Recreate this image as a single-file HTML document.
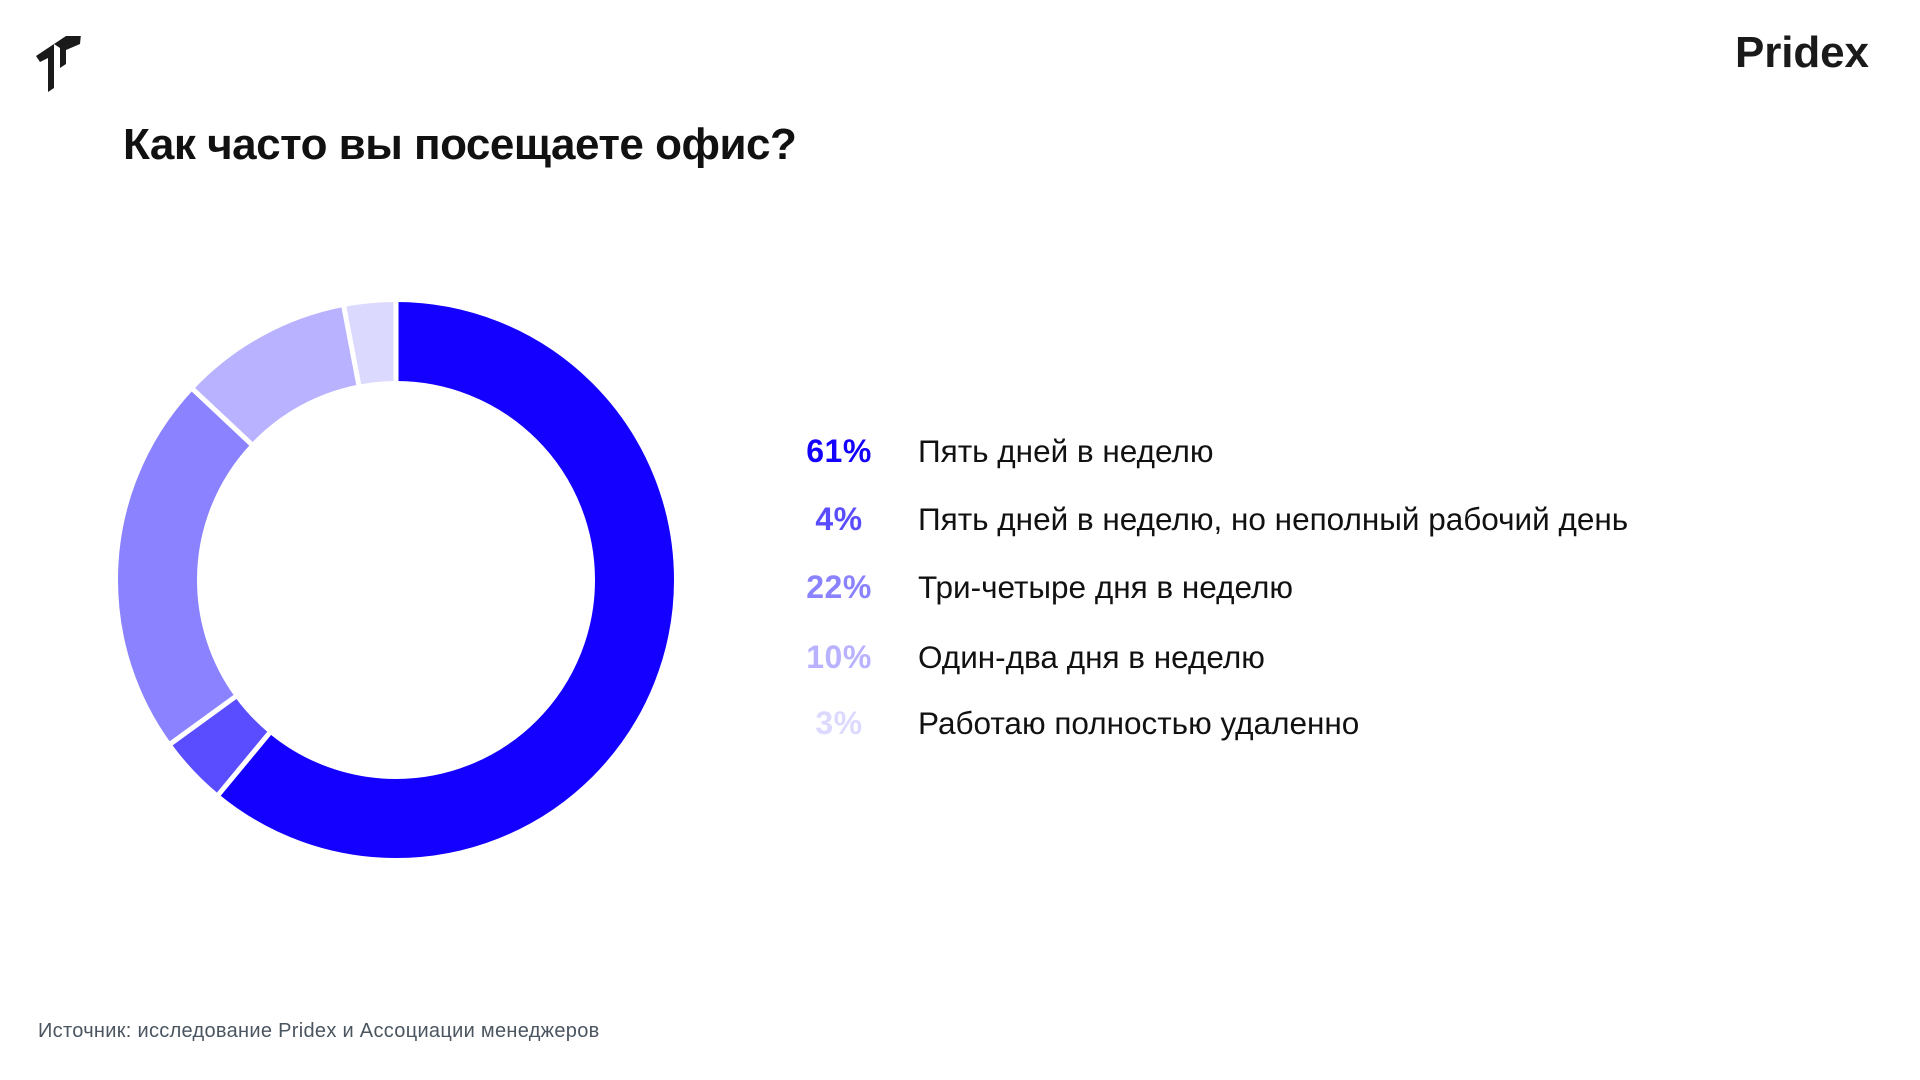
<!DOCTYPE html>
<html><head><meta charset="utf-8"><style>
body{margin:0;width:1920px;height:1080px;background:#fff;position:relative;overflow:hidden;font-family:"Liberation Sans","DejaVu Sans",sans-serif;color:#111}
.t{position:absolute;white-space:nowrap}
.p{position:absolute;width:120px;text-align:center;font-weight:bold;font-size:32px;left:779px;letter-spacing:0.5px}
.l{position:absolute;left:918px;font-size:31.5px}
</style></head><body>
<svg class="t" style="left:36px;top:36px" width="48" height="56" viewBox="0 0 48 56">
<polygon points="0,20 18,8 18,52 12,56 12,22 4,26" fill="#1a1a1a"/>
<polygon points="18,8 30,0 30,28 24,32 24,12" fill="#1a1a1a"/>
<polygon points="30,0 45,-2 44,8 30,14" fill="#1a1a1a"/>
</svg>
<div class="t" style="left:1735px;top:28px;font-size:44px;font-weight:bold;letter-spacing:-0.1px;color:#1a1a1a">Pridex</div>
<div class="t" style="left:123px;top:120px;font-size:44px;font-weight:bold;letter-spacing:-0.5px">Как часто вы посещаете офис?</div>
<svg class="t" style="left:0;top:0" width="800" height="1000">
<g transform="rotate(-90 396 580)" fill="none" stroke-width="79">
<circle cx="396" cy="580" r="238.5" pathLength="100" stroke="#1400ff" stroke-dasharray="61 100" stroke-dashoffset="0"/>
<circle cx="396" cy="580" r="238.5" pathLength="100" stroke="#5a4dff" stroke-dasharray="4 100" stroke-dashoffset="-61"/>
<circle cx="396" cy="580" r="238.5" pathLength="100" stroke="#8a82ff" stroke-dasharray="22 100" stroke-dashoffset="-65"/>
<circle cx="396" cy="580" r="238.5" pathLength="100" stroke="#b8b2ff" stroke-dasharray="10 100" stroke-dashoffset="-87"/>
<circle cx="396" cy="580" r="238.5" pathLength="100" stroke="#dcd9ff" stroke-dasharray="3 100" stroke-dashoffset="-97"/>
</g>
<g stroke="#fff" stroke-width="5">
<line x1="396" y1="580" x2="396" y2="290" transform="rotate(0 396 580)"/>
<line x1="396" y1="580" x2="396" y2="290" transform="rotate(219.6 396 580)"/>
<line x1="396" y1="580" x2="396" y2="290" transform="rotate(234 396 580)"/>
<line x1="396" y1="580" x2="396" y2="290" transform="rotate(313.2 396 580)"/>
<line x1="396" y1="580" x2="396" y2="290" transform="rotate(349.2 396 580)"/>
</g>
</svg>
<div class="p" style="top:433px;color:#1400ff">61%</div><div class="l" style="top:433px">Пять дней в неделю</div>
<div class="p" style="top:501px;color:#5a4dff">4%</div><div class="l" style="top:501px">Пять дней в неделю, но неполный рабочий день</div>
<div class="p" style="top:569px;color:#8a82ff">22%</div><div class="l" style="top:569px">Три-четыре дня в неделю</div>
<div class="p" style="top:639px;color:#b8b2ff">10%</div><div class="l" style="top:639px">Один-два дня в неделю</div>
<div class="p" style="top:705px;color:#dcd9ff">3%</div><div class="l" style="top:705px">Работаю полностью удаленно</div>
<div class="t" style="left:38px;top:1020px;font-size:20px;letter-spacing:0.3px;color:#4a5560">Источник: исследование Pridex и Ассоциации менеджеров</div>
</body></html>
